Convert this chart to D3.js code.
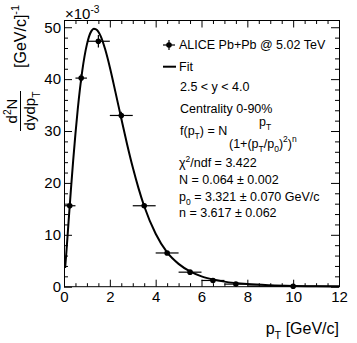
<!DOCTYPE html>
<html><head><meta charset="utf-8">
<script src="https://cdn.jsdelivr.net/npm/d3@7"></script>
<style>
body{margin:0;background:#fff}
svg{display:block}
text{font-family:"Liberation Sans",Arial,Helvetica,sans-serif;fill:#000}
</style>
</head><body>
<svg id="c" width="357" height="343"></svg>
<script>
// ---- data (yield in units of 1e-3 (GeV/c)^-1) ----
const binCenters = [0.25, 0.75, 1.5, 2.5, 3.5, 4.5, 5.5, 6.5, 7.5, 10];
const binLow     = [0, 0.5, 1, 2, 3, 4, 5, 6, 7, 8];
const binHigh    = [0.5, 1, 2, 3, 4, 5, 6, 7, 8, 12];
const yields     = [15.6, 40.2, 47.3, 33.0, 15.6, 6.5, 2.8, 1.2, 0.5, 0.1];
const yieldErr   = [0.6, 0.8, 1.2, 0.7, 0.4, 0.3, 0.15, 0.1, 0.05, 0.02];
// fit curve
const fitPt  = [0.05, 0.1, 0.2, 0.3, 0.4, 0.5, 0.6, 0.8, 1.0, 1.2, 1.3, 1.4, 1.6, 1.8, 2.0, 2.25, 2.5, 2.75, 3.0, 3.25, 3.5, 4.0, 4.5, 5.0, 5.5, 6.0, 6.5, 7.0, 8.0, 9.0, 10, 11, 12];
const fitVal = [3.6, 6.4, 12.6, 18.6, 24.3, 29.5, 34.2, 41.7, 46.7, 49.3, 49.7, 49.6, 48.3, 45.7, 42.3, 37.4, 32.4, 27.5, 23.0, 19.0, 15.5, 10.2, 6.6, 4.4, 2.95, 2.0, 1.4, 0.98, 0.5, 0.27, 0.15, 0.09, 0.054];
const xMajorTicks = [0, 2, 4, 6, 8, 10, 12];
const yMajorTicks = [0, 10, 20, 30, 40, 50];
const legendLines = [
  "2.5 < y < 4.0",
  "Centrality 0-90%"
];

const svg = d3.select("#c");
const L = 64, R = 339, T = 20.5, B = 286.7;
const x = d3.scaleLinear().domain([0, 12]).range([L, R]);
const y = d3.scaleLinear().domain([0, 51.3]).range([B, T]);

function rich(sel, parts, size) {
  let cur = 0;
  parts.forEach(p => {
    const shift = p.sub ? size * 0.32 : (p.sup ? -size * 0.42 : 0);
    const ts = sel.append("tspan").attr("font-size", (p.sub || p.sup) ? size * 0.68 : size).text(p.t);
    if (shift - cur !== 0) ts.attr("dy", shift - cur);
    cur = shift;
  });
}

// ---- axes (ticks inside, mirrored) ----
const xMinor = d3.range(0, 12.01, 0.5).filter(v => Math.abs(v / 2 - Math.round(v / 2)) > 1e-6);
const yMinor = d3.range(0, 51.3, 2).filter(v => v % 10 !== 0);

function styleAxis(g) {
  g.select(".domain").remove();
  g.selectAll("line").attr("stroke", "#000").attr("stroke-width", 1);
  g.selectAll("text").attr("font-size", 15).attr("font-family", '"Liberation Sans",Arial,sans-serif');
}
svg.append("g").attr("transform", `translate(0,${B})`)
  .call(d3.axisBottom(x).tickValues(xMajorTicks).tickSize(-7).tickPadding(5).tickFormat(d3.format("d")))
  .call(styleAxis);
svg.append("g").attr("transform", `translate(0,${B})`)
  .call(d3.axisBottom(x).tickValues(xMinor).tickSize(-3.5).tickFormat(""))
  .call(styleAxis);
svg.append("g").attr("transform", `translate(0,${T})`)
  .call(d3.axisTop(x).tickValues(xMajorTicks).tickSize(-7).tickFormat(""))
  .call(styleAxis);
svg.append("g").attr("transform", `translate(0,${T})`)
  .call(d3.axisTop(x).tickValues(xMinor).tickSize(-3.5).tickFormat(""))
  .call(styleAxis);
svg.append("g").attr("transform", `translate(${L},0)`)
  .call(d3.axisLeft(y).tickValues(yMajorTicks).tickSize(-8).tickPadding(3).tickFormat(d3.format("d")))
  .call(styleAxis);
svg.append("g").attr("transform", `translate(${L},0)`)
  .call(d3.axisLeft(y).tickValues(yMinor).tickSize(-4).tickFormat(""))
  .call(styleAxis);
svg.append("g").attr("transform", `translate(${R},0)`)
  .call(d3.axisRight(y).tickValues(yMajorTicks).tickSize(-8).tickFormat(""))
  .call(styleAxis);
svg.append("g").attr("transform", `translate(${R},0)`)
  .call(d3.axisRight(y).tickValues(yMinor).tickSize(-4).tickFormat(""))
  .call(styleAxis);

svg.append("rect").attr("x", L + 0.5).attr("y", T).attr("width", R - L).attr("height", B - T)
  .attr("fill", "none").attr("stroke", "#000").attr("stroke-width", 1);

// exponent
const ex = svg.append("text").attr("x", 65).attr("y", 19);
rich(ex, [{t: "×10"}, {t: "-3", sup: true}], 15);

// ---- fit curve ----
const fitData = fitPt.map((p, i) => [p, fitVal[i]]);
svg.append("path").datum(fitData)
  .attr("fill", "none").attr("stroke", "#000").attr("stroke-width", 2)
  .attr("d", d3.line().x(d => x(d[0])).y(d => y(d[1])).curve(d3.curveMonotoneX));

// ---- data points ----
const pts = binCenters.map((c, i) => ({c, lo: binLow[i], hi: binHigh[i], v: yields[i], e: yieldErr[i]}));
const pg = svg.append("g");
pg.selectAll(".xe").data(pts).join("line")
  .attr("x1", d => x(d.lo)).attr("x2", d => x(d.hi))
  .attr("y1", d => y(d.v)).attr("y2", d => y(d.v))
  .attr("stroke", "#000").attr("stroke-width", 1.2);
pg.selectAll(".ye").data(pts).join("line")
  .attr("x1", d => x(d.c)).attr("x2", d => x(d.c))
  .attr("y1", d => y(d.v - d.e)).attr("y2", d => y(d.v + d.e))
  .attr("stroke", "#000").attr("stroke-width", 1.2);
pg.selectAll("circle").data(pts).join("circle")
  .attr("cx", d => x(d.c)).attr("cy", d => y(d.v)).attr("r", 2.8).attr("fill", "#000");

// ---- axis titles ----
const xt = svg.append("text").attr("x", 339).attr("y", 334).attr("text-anchor", "end");
rich(xt, [{t: "p"}, {t: "T", sub: true}, {t: " [GeV/c]"}], 16);

const num = svg.append("text").attr("transform", "translate(17,111) rotate(-90)").attr("text-anchor", "middle");
rich(num, [{t: "d"}, {t: "2", sup: true}, {t: "N"}], 15);
svg.append("line").attr("x1", 20.5).attr("x2", 20.5).attr("y1", 91).attr("y2", 131)
  .attr("stroke", "#000").attr("stroke-width", 1);
const den = svg.append("text").attr("transform", "translate(35,111) rotate(-90)").attr("text-anchor", "middle");
rich(den, [{t: "dydp"}, {t: "T", sub: true}], 15);
const unit = svg.append("text").attr("transform", "translate(26,68) rotate(-90)");
rich(unit, [{t: "[GeV/c]"}, {t: "-1", sup: true}], 16);

// ---- legend ----
const fs = 12.5;
const lg = svg.append("g");
lg.append("line").attr("x1", 163).attr("x2", 175).attr("y1", 45).attr("y2", 45).attr("stroke", "#000").attr("stroke-width", 1.2);
lg.append("line").attr("x1", 169).attr("x2", 169).attr("y1", 40).attr("y2", 50).attr("stroke", "#000").attr("stroke-width", 1.2);
lg.append("circle").attr("cx", 169).attr("cy", 45).attr("r", 2.8).attr("fill", "#000");
lg.append("text").attr("x", 179).attr("y", 49.3).attr("font-size", fs).text("ALICE Pb+Pb @ 5.02 TeV");
lg.append("line").attr("x1", 163).attr("x2", 176).attr("y1", 66.7).attr("y2", 66.7).attr("stroke", "#000").attr("stroke-width", 2);
lg.append("text").attr("x", 179).attr("y", 71).attr("font-size", fs).text("Fit");
lg.selectAll(".ll").data(legendLines).join("text")
  .attr("x", 180).attr("y", (d, i) => 91 + i * 21.5).attr("font-size", fs).text(d => d);

const f1 = lg.append("text").attr("x", 180).attr("y", 134.5);
rich(f1, [{t: "f(p"}, {t: "T", sub: true}, {t: ") = N"}], fs);
const f2 = lg.append("text").attr("x", 265).attr("y", 126.3).attr("text-anchor", "middle");
rich(f2, [{t: "p"}, {t: "T", sub: true}], fs);
const f3 = lg.append("text").attr("x", 229).attr("y", 147.5);
rich(f3, [{t: "(1+(p"}, {t: "T", sub: true}, {t: "/p"}, {t: "0", sub: true}, {t: ")"}, {t: "2", sup: true}, {t: ")"}, {t: "n", sup: true}], fs);

const s1 = lg.append("text").attr("x", 179).attr("y", 167);
rich(s1, [{t: "χ"}, {t: "2", sup: true}, {t: "/ndf = 3.422"}], fs);
lg.append("text").attr("x", 179).attr("y", 184.3).attr("font-size", fs).text("N = 0.064 ± 0.002");
const s3 = lg.append("text").attr("x", 179).attr("y", 201);
rich(s3, [{t: "p"}, {t: "0", sub: true}, {t: " = 3.321 ± 0.070 GeV/c"}], fs);
lg.append("text").attr("x", 179).attr("y", 217).attr("font-size", fs).text("n = 3.617 ± 0.062");
</script>
</body></html>
